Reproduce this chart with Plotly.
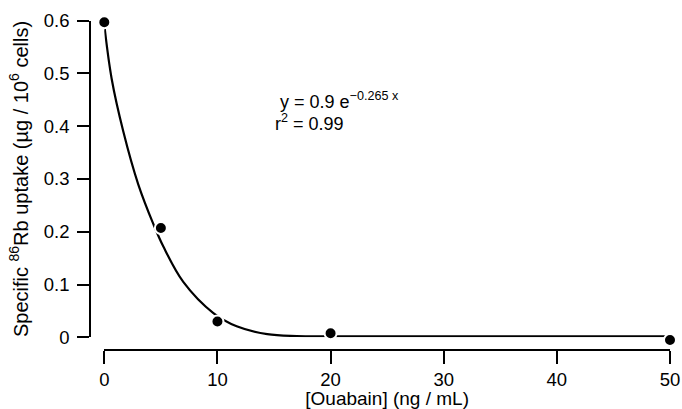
import plotly.graph_objects as go

# Measured data points
ouabain = [0, 5, 10, 20, 50]
uptake = [0.597, 0.207, 0.030, 0.0076, -0.005]

# Fitted curve
fit_x = [0, 0.65, 1.68, 3.0, 4.33, 5.22, 6.98, 9.64, 11.7, 14.4, 17, 20, 30, 40, 50]
fit_y = [0.592, 0.49, 0.39, 0.29, 0.215, 0.172, 0.105, 0.046, 0.021, 0.006, 0.0025, 0.002, 0.002, 0.002, 0.002]

x_ticks = [0, 10, 20, 30, 40, 50]
y_ticks = [0, 0.1, 0.2, 0.3, 0.4, 0.5, 0.6]
y_labels = ["0", "0.1", "0.2", "0.3", "0.4", "0.5", "0.6"]

FONT = "Liberation Sans, Arial, Helvetica, sans-serif"

# pixel geometry of the plot (682x409 page)
X0_PX, X1_PX = 104.3, 670.0      # x = 0 and x = 50
Y0_PX, Y1_PX = 337.3, 20.7       # y = 0 and y = 0.6
W, H = 682, 409
py_per_unit = (Y0_PX - Y1_PX) / 0.6
# hidden helper axis for markers (slightly wider range, same scale)
Y2_RANGE = [-0.03, 0.63]
y2_lo_px = Y0_PX - Y2_RANGE[0] * py_per_unit
y2_hi_px = Y0_PX - Y2_RANGE[1] * py_per_unit

fig = go.Figure()
fig.add_trace(go.Scatter(
    x=fit_x, y=fit_y, mode="lines",
    line=dict(color="black", width=2.2, shape="spline", smoothing=1.0),
    hoverinfo="skip", showlegend=False,
))
fig.add_trace(go.Scatter(
    x=ouabain, y=uptake, mode="markers", yaxis="y2",
    marker=dict(color="black", size=12, line=dict(color="white", width=2)),
    cliponaxis=False, showlegend=False,
))

fig.update_layout(
    width=W, height=H,
    margin=dict(l=0, r=0, t=0, b=0),
    paper_bgcolor="white", plot_bgcolor="rgba(0,0,0,0)",
    font=dict(family=FONT, color="black", size=18),
    xaxis=dict(
        domain=[X0_PX / W, X1_PX / W], range=[0, 50],
        anchor="free", position=59 / H,
        tickvals=x_ticks, ticks="outside", ticklen=13, tickwidth=1.5, tickcolor="black",
        showline=True, linecolor="black", linewidth=1.5,
        showgrid=False, zeroline=False,
        tickfont=dict(size=18.5),
        title=dict(text="[Ouabain] (ng / mL)", font=dict(size=19), standoff=6),
        automargin=False,
    ),
    yaxis=dict(
        domain=[(H - Y0_PX) / H, (H - Y1_PX) / H], range=[0, 0.6],
        anchor="free", position=90 / W,
        tickvals=y_ticks, ticktext=y_labels, ticks="outside", ticklen=12, tickwidth=1.5, tickcolor="black",
        showline=True, linecolor="black", linewidth=1.5,
        showgrid=False, zeroline=False,
        tickfont=dict(size=18.5), ticklabelstandoff=4,
        title=dict(text="Specific <sup>86</sup>Rb uptake (µg / 10<sup>6</sup> cells)", font=dict(size=20), standoff=9),
        automargin=False,
    ),
    yaxis2=dict(
        domain=[(H - y2_lo_px) / H, (H - y2_hi_px) / H], range=Y2_RANGE,
        anchor="x", visible=False, showgrid=False, zeroline=False,
    ),
)

fig.add_annotation(
    xref="paper", yref="paper", x=278 / W, y=(H - 101) / H,
    xanchor="left", yanchor="middle", showarrow=False,
    text="y = 0.9 e<sup>−0.265 x</sup>", font=dict(family=FONT, size=18, color="black"),
)
fig.add_annotation(
    xref="paper", yref="paper", x=273 / W, y=(H - 122) / H,
    xanchor="left", yanchor="middle", showarrow=False,
    text="r<sup>2</sup> = 0.99", font=dict(family=FONT, size=18, color="black"),
)

fig.write_html("out.html")
